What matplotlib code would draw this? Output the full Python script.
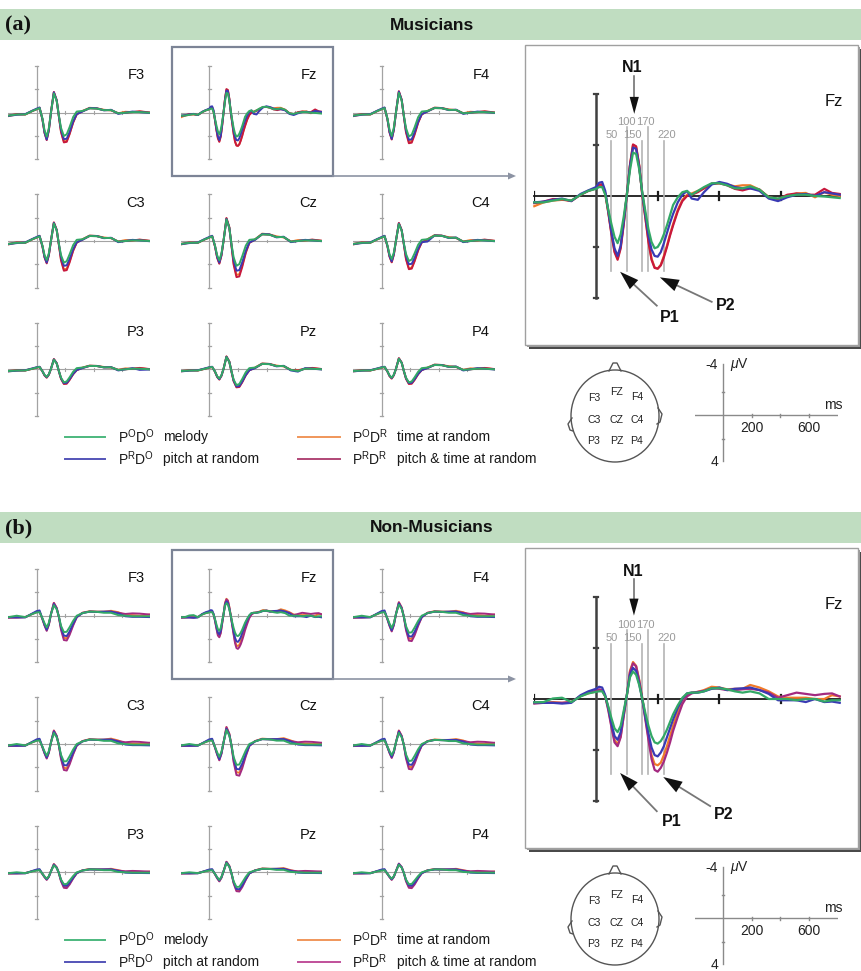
import matplotlib
matplotlib.use("Agg")
import matplotlib.pyplot as plt
from matplotlib.patches import Rectangle, Ellipse, Polygon
from matplotlib.lines import Line2D
from matplotlib.transforms import IdentityTransform
import numpy as np

plt.rcParams['font.family'] = ['Liberation Sans', 'DejaVu Sans']
plt.rcParams['mathtext.fontset'] = 'custom'
plt.rcParams['mathtext.rm'] = 'Liberation Sans'
plt.rcParams['mathtext.it'] = 'Liberation Sans:italic'
plt.rcParams['mathtext.bf'] = 'Liberation Sans:bold'

# ---------------- data (µV, negative up) ----------------
GROUPS = ['Musicians', 'Non-Musicians']
LETTERS = ['(a)', '(b)']
CONDITIONS = ['MEL', 'PIT', 'TIM', 'BOTH']
LEGEND_CODES = [r'P$^{\mathrm{O}}$D$^{\mathrm{O}}$', r'P$^{\mathrm{R}}$D$^{\mathrm{O}}$',
                r'P$^{\mathrm{O}}$D$^{\mathrm{R}}$', r'P$^{\mathrm{R}}$D$^{\mathrm{R}}$']
LEGEND_DESC = ['melody', 'pitch at random', 'time at random', 'pitch & time at random']
ELECTRODES = [['F3', 'Fz', 'F4'], ['C3', 'Cz', 'C4'], ['P3', 'Pz', 'P4']]
HEAD_LABELS = [['F3', 'FZ', 'F4'], ['C3', 'CZ', 'C4'], ['P3', 'PZ', 'P4']]
MARK_T = [50, 100, 150, 170, 220]
MARK_LABELS = ['50', '100', '150', '170', '220']
BIG_XTICKS = [-200, 200, 400, 600]
BIG_YTICKS = [-4, -2, 2, 4]
SCALE_XTICKS = [200, 400, 600]
SCALE_XLABELS = ['200', '', '600']
SCALE_YTICKS = [-2, 2]

T_BIG = [-200, -170, -140, -110, -80, -50, -25, 0, 10, 20, 30, 40, 50, 60, 70, 80, 90, 100, 110, 120,
         130, 140, 150, 160, 170, 180, 190, 200, 210, 220, 230, 240, 250, 265, 280, 295, 310, 330, 350,
         375, 400, 425, 450, 475, 500, 530, 560, 590, 620, 650, 680, 710, 740, 765, 790]

A_FZ_MEL = [0.25, 0.25, 0.18, 0.12, 0.18, -0.05, -0.2, -0.28, -0.35, -0.35, -0.05, 0.55, 1.1, 1.6, 1.85, 1.5, 0.8, -0.05, -1.0, -1.7,
            -1.65, -1.05, -0.15, 0.6, 1.3, 1.8, 2.05, 2.0, 1.8, 1.5, 1.15, 0.75, 0.35, 0.05, -0.15, -0.2, -0.05, -0.2, -0.35,
            -0.5, -0.5, -0.42, -0.3, -0.3, -0.38, -0.25, 0.05, 0.1, 0.0, -0.05, -0.05, 0.0, 0.02, 0.05, 0.08]
A_FZ_PIT = [0.25, 0.22, 0.15, 0.1, 0.2, -0.08, -0.22, -0.35, -0.52, -0.55, -0.2, 0.6, 1.4, 2.05, 2.35, 1.95, 1.0, -0.05, -1.15, -1.9,
            -1.85, -1.15, -0.1, 0.75, 1.55, 2.1, 2.35, 2.38, 2.2, 1.85, 1.45, 1.05, 0.7, 0.25, -0.05, -0.2, 0.1, 0.15, -0.15,
            -0.45, -0.55, -0.48, -0.35, -0.3, -0.3, -0.2, 0.1, 0.2, 0.05, -0.05, -0.08, 0.0, -0.15, -0.1, -0.05]
A_FZ_TIM = [0.4, 0.25, 0.18, 0.15, 0.18, -0.05, -0.2, -0.3, -0.42, -0.45, -0.1, 0.65, 1.45, 2.15, 2.45, 2.0, 1.05, -0.05, -1.2, -2.0,
            -1.92, -1.2, -0.05, 0.85, 1.75, 2.45, 2.8, 2.85, 2.7, 2.35, 1.95, 1.5, 1.1, 0.55, 0.15, -0.05, -0.1, -0.2, -0.3,
            -0.48, -0.5, -0.45, -0.38, -0.42, -0.42, -0.25, 0.05, 0.12, 0.0, -0.1, -0.12, 0.05, -0.15, -0.05, 0.0]
A_FZ_BOTH = [0.28, 0.22, 0.12, 0.13, 0.2, -0.05, -0.2, -0.3, -0.45, -0.45, -0.1, 0.65, 1.5, 2.2, 2.5, 2.05, 1.1, -0.05, -1.2, -2.02,
             -1.95, -1.2, -0.05, 0.85, 1.8, 2.5, 2.82, 2.85, 2.72, 2.4, 2.0, 1.55, 1.15, 0.6, 0.2, 0.0, -0.05, -0.15, -0.3,
             -0.48, -0.5, -0.42, -0.28, -0.22, -0.3, -0.25, 0.05, 0.12, -0.05, -0.1, -0.05, -0.05, -0.28, -0.12, -0.08]

B_FZ_MEL = [0.13, 0.12, -0.02, -0.05, 0.12, -0.1, -0.22, -0.28, -0.3, -0.3, -0.1, 0.3, 0.75, 1.15, 1.3, 1.05, 0.45, -0.15, -0.85, -1.08,
            -0.95, -0.55, 0.0, 0.55, 1.05, 1.45, 1.7, 1.75, 1.65, 1.45, 1.2, 0.9, 0.6, 0.25, -0.05, -0.22, -0.25, -0.25, -0.3,
            -0.42, -0.42, -0.38, -0.3, -0.25, -0.3, -0.22, 0.0, 0.0, 0.0, 0.05, 0.0, 0.0, 0.1, 0.05, 0.05]
B_FZ_PIT = [0.13, 0.15, 0.15, 0.18, 0.15, -0.15, -0.3, -0.4, -0.48, -0.45, -0.15, 0.35, 0.95, 1.45, 1.6, 1.3, 0.55, -0.15, -0.95, -1.22,
            -1.1, -0.6, 0.0, 0.7, 1.35, 1.9, 2.2, 2.25, 2.1, 1.85, 1.5, 1.15, 0.8, 0.35, 0.0, -0.22, -0.25, -0.25, -0.3,
            -0.4, -0.45, -0.35, -0.4, -0.42, -0.45, -0.35, -0.2, 0.05, 0.05, 0.05, 0.12, 0.0, 0.12, 0.1, 0.15]
B_FZ_TIM = [0.15, 0.15, 0.12, 0.15, 0.12, -0.12, -0.22, -0.3, -0.35, -0.35, -0.1, 0.4, 1.05, 1.6, 1.78, 1.45, 0.65, -0.15, -1.1, -1.45,
            -1.3, -0.75, -0.05, 0.75, 1.5, 2.2, 2.55, 2.6, 2.5, 2.2, 1.85, 1.45, 1.05, 0.5, 0.1, -0.15, -0.25, -0.28, -0.35,
            -0.48, -0.45, -0.38, -0.4, -0.4, -0.55, -0.45, -0.3, -0.1, -0.05, -0.05, -0.05, 0.0, 0.0, -0.15, -0.1]
B_FZ_BOTH = [0.18, 0.15, 0.15, 0.15, 0.12, -0.12, -0.25, -0.32, -0.38, -0.35, -0.1, 0.45, 1.1, 1.7, 1.85, 1.5, 0.65, -0.15, -1.05, -1.4,
             -1.28, -0.72, 0.0, 0.8, 1.6, 2.35, 2.78, 2.85, 2.7, 2.45, 2.1, 1.7, 1.25, 0.7, 0.2, -0.1, -0.22, -0.28, -0.32,
             -0.42, -0.4, -0.35, -0.35, -0.38, -0.4, -0.35, -0.25, -0.05, -0.15, -0.25, -0.2, -0.15, -0.2, -0.22, -0.1]

T_SMALL = [-200, -140, -80, -30, 0, 20, 40, 55, 70, 85, 100, 120, 140, 155, 170, 190, 210, 230, 255, 280,
           320, 370, 420, 470, 520, 570, 620, 670, 720, 790]

# ---- Musicians ----
A_F3_MEL = [0.25,0.15,0.15,-0.15,-0.3,-0.4,0.49,1.52,2.05,1.31,-0.05,-1.65,-0.99,0.25,1.3,2.0,1.85,1.24,0.37,-0.1,-0.15,-0.37,-0.35,-0.22,-0.22,0.05,0.0,-0.05,-0.05,0.0]
A_F3_PIT = [0.28,0.18,0.12,-0.18,-0.35,-0.45,0.55,1.7,2.3,1.47,-0.05,-1.75,-1.05,0.28,1.48,2.28,2.23,1.65,0.75,0.12,-0.1,-0.4,-0.38,-0.2,-0.25,0.1,0.0,-0.1,-0.05,0.02]
A_F3_TIM = [0.3,0.15,0.15,-0.15,-0.3,-0.42,0.55,1.7,2.3,1.47,-0.05,-1.75,-1.05,0.31,1.61,2.47,2.42,1.79,0.82,0.13,-0.15,-0.42,-0.38,-0.25,-0.2,0.05,-0.08,-0.05,-0.1,0.0]
A_F3_BOTH = [0.25,0.12,0.15,-0.15,-0.3,-0.42,0.56,1.74,2.35,1.5,-0.05,-1.78,-1.07,0.32,1.66,2.55,2.5,1.84,0.84,0.13,-0.12,-0.38,-0.36,-0.22,-0.22,0.05,0.0,-0.05,-0.12,-0.02]
A_F4_MEL = [0.25,0.15,0.15,-0.15,-0.3,-0.4,0.48,1.48,2.0,1.28,-0.05,-1.7,-1.02,0.25,1.32,2.04,1.89,1.26,0.38,-0.1,-0.15,-0.4,-0.38,-0.24,-0.24,0.05,0.0,-0.05,-0.05,0.0]
A_F4_PIT = [0.28,0.18,0.12,-0.18,-0.35,-0.45,0.54,1.67,2.25,1.44,-0.05,-1.8,-1.08,0.29,1.51,2.33,2.28,1.68,0.77,0.12,-0.1,-0.42,-0.4,-0.22,-0.26,0.1,0.0,-0.1,-0.05,0.02]
A_F4_TIM = [0.3,0.15,0.15,-0.15,-0.3,-0.42,0.54,1.67,2.25,1.44,-0.05,-1.8,-1.08,0.31,1.61,2.47,2.42,1.79,0.82,0.13,-0.15,-0.44,-0.4,-0.28,-0.22,0.05,-0.08,-0.05,-0.1,0.0]
A_F4_BOTH = [0.25,0.12,0.15,-0.15,-0.3,-0.42,0.55,1.7,2.3,1.47,-0.05,-1.85,-1.11,0.32,1.7,2.62,2.57,1.89,0.86,0.14,-0.12,-0.4,-0.39,-0.24,-0.24,0.05,0.0,-0.05,-0.12,-0.02]
A_C3_MEL = [0.25,0.15,0.15,-0.15,-0.3,-0.4,0.39,1.21,1.63,1.04,-0.05,-1.5,-0.9,0.23,1.21,1.86,1.73,1.15,0.35,-0.1,-0.15,-0.43,-0.41,-0.26,-0.26,0.05,0.0,-0.05,-0.05,0.0]
A_C3_PIT = [0.28,0.18,0.12,-0.18,-0.35,-0.45,0.44,1.37,1.85,1.18,-0.05,-1.55,-0.93,0.26,1.39,2.13,2.09,1.54,0.7,0.11,-0.1,-0.45,-0.43,-0.24,-0.28,0.1,0.0,-0.1,-0.05,0.02]
A_C3_TIM = [0.3,0.15,0.15,-0.15,-0.3,-0.42,0.44,1.37,1.85,1.18,-0.05,-1.57,-0.94,0.3,1.58,2.43,2.38,1.75,0.8,0.13,-0.15,-0.47,-0.43,-0.3,-0.24,0.05,-0.08,-0.05,-0.1,0.0]
A_C3_BOTH = [0.25,0.12,0.15,-0.15,-0.3,-0.42,0.46,1.42,1.92,1.23,-0.05,-1.6,-0.96,0.32,1.66,2.55,2.5,1.84,0.84,0.13,-0.12,-0.43,-0.42,-0.26,-0.26,0.05,0.0,-0.05,-0.12,-0.02]
A_CZ_MEL = [0.25,0.15,0.15,-0.15,-0.3,-0.4,0.4,1.22,1.65,1.06,-0.05,-1.85,-1.11,0.26,1.39,2.13,1.98,1.32,0.4,-0.1,-0.15,-0.57,-0.54,-0.34,-0.34,0.05,0.0,-0.05,-0.05,0.0]
A_CZ_PIT = [0.28,0.18,0.12,-0.18,-0.35,-0.45,0.44,1.37,1.85,1.18,-0.05,-1.9,-1.14,0.32,1.66,2.55,2.5,1.84,0.84,0.13,-0.1,-0.6,-0.57,-0.31,-0.37,0.1,0.0,-0.1,-0.05,0.02]
A_CZ_TIM = [0.3,0.15,0.15,-0.15,-0.3,-0.42,0.46,1.41,1.9,1.22,-0.05,-1.95,-1.17,0.36,1.89,2.91,2.85,2.1,0.96,0.15,-0.15,-0.63,-0.57,-0.4,-0.31,0.05,-0.08,-0.05,-0.1,0.0]
A_CZ_BOTH = [0.25,0.12,0.15,-0.15,-0.3,-0.42,0.47,1.44,1.95,1.25,-0.05,-1.97,-1.18,0.38,2.02,3.1,3.04,2.24,1.02,0.16,-0.12,-0.57,-0.55,-0.34,-0.34,0.05,0.0,-0.05,-0.12,-0.02]
A_C4_MEL = [0.25,0.15,0.15,-0.15,-0.3,-0.4,0.37,1.15,1.55,0.99,-0.05,-1.45,-0.87,0.21,1.12,1.72,1.59,1.06,0.32,-0.1,-0.15,-0.46,-0.44,-0.28,-0.28,0.05,0.0,-0.05,-0.05,0.0]
A_C4_PIT = [0.28,0.18,0.12,-0.18,-0.35,-0.45,0.42,1.3,1.75,1.12,-0.05,-1.5,-0.9,0.25,1.3,2.0,1.96,1.44,0.66,0.1,0.05,-0.48,-0.46,-0.25,-0.3,0.1,0.0,-0.1,-0.05,0.02]
A_C4_TIM = [0.3,0.15,0.15,-0.15,-0.3,-0.42,0.43,1.33,1.8,1.15,-0.05,-1.52,-0.91,0.29,1.51,2.33,2.28,1.68,0.77,0.12,-0.15,-0.51,-0.46,-0.32,-0.25,0.05,-0.08,-0.05,-0.1,0.0]
A_C4_BOTH = [0.25,0.12,0.15,-0.15,-0.3,-0.42,0.44,1.35,1.83,1.17,-0.05,-1.55,-0.93,0.3,1.57,2.42,2.37,1.74,0.8,0.12,-0.12,-0.46,-0.45,-0.28,-0.28,0.05,0.0,-0.05,-0.12,-0.02]
A_P3_MEL = [0.15,0.1,0.1,-0.05,-0.15,-0.2,0.16,0.48,0.65,0.42,-0.05,-0.82,-0.49,0.14,0.72,1.12,1.04,0.69,0.21,-0.1,-0.15,-0.29,-0.28,-0.17,-0.17,0.05,0.0,-0.05,-0.05,0.0]
A_P3_PIT = [0.18,0.12,0.08,-0.08,-0.18,-0.22,0.16,0.5,0.68,0.44,-0.05,-0.85,-0.51,0.15,0.77,1.18,1.16,0.85,0.39,0.06,-0.1,-0.3,-0.29,-0.16,-0.19,0.1,0.0,-0.1,0.05,0.02]
A_P3_TIM = [0.18,0.1,0.1,-0.05,-0.15,-0.2,0.17,0.52,0.7,0.45,-0.05,-0.85,-0.51,0.15,0.79,1.21,1.19,0.88,0.4,0.06,-0.15,-0.32,-0.29,-0.2,-0.16,0.05,-0.08,-0.05,-0.1,0.0]
A_P3_BOTH = [0.15,0.08,0.1,-0.05,-0.15,-0.2,0.17,0.53,0.72,0.46,-0.05,-0.88,-0.53,0.16,0.82,1.26,1.24,0.91,0.42,0.07,-0.12,-0.29,-0.28,-0.17,-0.17,0.05,0.0,-0.05,-0.12,-0.02]
A_PZ_MEL = [0.15,0.1,0.1,-0.05,-0.15,-0.2,0.19,0.59,0.8,0.51,-0.05,-1.05,-0.63,0.17,0.88,1.36,1.26,0.84,0.25,-0.1,-0.15,-0.46,-0.44,-0.28,-0.28,0.05,0.15,-0.05,-0.05,0.0]
A_PZ_PIT = [0.18,0.12,0.08,-0.08,-0.18,-0.22,0.2,0.63,0.85,0.54,-0.05,-1.08,-0.65,0.18,0.96,1.47,1.44,1.06,0.49,0.08,-0.1,-0.48,-0.46,-0.25,-0.3,0.1,0.2,-0.1,-0.05,0.02]
A_PZ_TIM = [0.18,0.1,0.1,-0.05,-0.15,-0.2,0.21,0.64,0.86,0.55,-0.05,-1.1,-0.66,0.19,0.98,1.5,1.47,1.09,0.5,0.08,-0.15,-0.51,-0.46,-0.32,-0.25,0.05,0.08,-0.05,-0.1,0.0]
A_PZ_BOTH = [0.15,0.08,0.1,-0.05,-0.15,-0.2,0.21,0.65,0.88,0.56,-0.05,-1.1,-0.66,0.19,1.01,1.55,1.52,1.12,0.51,0.08,-0.12,-0.46,-0.45,-0.28,-0.28,0.05,0.1,-0.05,-0.12,-0.02]
A_P4_MEL = [0.15,0.1,0.1,-0.05,-0.15,-0.2,0.17,0.53,0.72,0.46,-0.05,-0.9,-0.54,0.14,0.72,1.12,1.04,0.69,0.21,-0.1,-0.15,-0.37,-0.35,-0.22,-0.22,0.05,0.0,-0.05,-0.05,0.0]
A_P4_PIT = [0.18,0.12,0.08,-0.08,-0.18,-0.22,0.18,0.56,0.75,0.48,-0.05,-0.92,-0.55,0.15,0.77,1.18,1.16,0.85,0.39,0.06,-0.1,-0.39,-0.37,-0.2,-0.24,0.1,0.0,-0.1,-0.05,0.02]
A_P4_TIM = [0.18,0.1,0.1,-0.05,-0.15,-0.2,0.18,0.57,0.77,0.49,-0.05,-0.94,-0.56,0.15,0.79,1.22,1.2,0.88,0.4,0.06,-0.15,-0.41,-0.37,-0.26,-0.2,0.05,-0.08,-0.05,-0.1,0.0]
A_P4_BOTH = [0.15,0.08,0.1,-0.05,-0.15,-0.2,0.19,0.59,0.8,0.51,-0.05,-0.95,-0.57,0.16,0.82,1.26,1.24,0.91,0.42,0.07,-0.12,-0.37,-0.36,-0.22,-0.22,0.05,0.0,-0.05,-0.12,-0.02]

# ---- Non-musicians ----
B_F3_MEL = [0.13,0.0,0.12,-0.15,-0.28,-0.3,0.22,0.65,1.0,0.6,-0.15,-0.9,-0.54,0.07,0.87,1.41,1.38,0.99,0.44,0.0,-0.22,-0.35,-0.33,-0.25,-0.25,-0.05,0.0,0.05,0.05,0.05]
B_F3_PIT = [0.13,0.15,0.15,-0.2,-0.4,-0.45,0.26,0.78,1.2,0.72,-0.15,-1.0,-0.6,0.09,0.99,1.71,1.75,1.35,0.68,0.11,-0.22,-0.35,-0.33,-0.35,-0.35,-0.2,0.05,0.1,0.1,0.12]
B_F3_TIM = [0.15,0.15,0.12,-0.15,-0.3,-0.35,0.28,0.81,1.25,0.75,-0.15,-1.1,-0.66,0.1,1.1,1.9,1.94,1.5,0.76,0.12,-0.25,-0.39,-0.35,-0.35,-0.42,-0.3,-0.05,-0.05,0.0,-0.1]
B_F3_BOTH = [0.18,0.15,0.12,-0.17,-0.32,-0.35,0.29,0.85,1.3,0.78,-0.15,-1.1,-0.66,0.11,1.21,2.09,2.13,1.65,0.84,0.13,-0.25,-0.35,-0.33,-0.32,-0.35,-0.25,-0.15,-0.2,-0.18,-0.1]
B_F4_MEL = [0.13,0.0,0.12,-0.15,-0.28,-0.3,0.23,0.68,1.05,0.63,-0.15,-0.95,-0.57,0.08,0.9,1.46,1.43,1.02,0.45,0.0,-0.22,-0.35,-0.33,-0.25,-0.25,-0.05,0.0,0.05,0.05,0.05]
B_F4_PIT = [0.13,0.15,0.15,-0.2,-0.4,-0.45,0.28,0.81,1.25,0.75,-0.15,-1.05,-0.63,0.09,1.02,1.76,1.79,1.39,0.7,0.11,-0.22,-0.35,-0.33,-0.35,-0.35,-0.2,0.05,0.1,0.1,0.12]
B_F4_TIM = [0.15,0.15,0.12,-0.15,-0.3,-0.35,0.29,0.85,1.3,0.78,-0.15,-1.15,-0.69,0.1,1.13,1.95,1.99,1.54,0.78,0.12,-0.25,-0.39,-0.35,-0.35,-0.42,-0.3,-0.05,-0.05,0.0,-0.1]
B_F4_BOTH = [0.18,0.15,0.12,-0.17,-0.32,-0.35,0.3,0.88,1.35,0.81,-0.15,-1.15,-0.69,0.11,1.24,2.14,2.18,1.69,0.86,0.14,-0.25,-0.35,-0.33,-0.32,-0.35,-0.25,-0.15,-0.2,-0.18,-0.1]
B_C3_MEL = [0.13,0.0,0.12,-0.15,-0.28,-0.3,0.22,0.65,1.0,0.6,-0.15,-0.95,-0.57,0.08,0.93,1.5,1.47,1.05,0.47,0.0,-0.22,-0.38,-0.36,-0.27,-0.27,-0.05,0.0,0.05,0.05,0.05]
B_C3_PIT = [0.13,0.15,0.15,-0.2,-0.4,-0.45,0.25,0.75,1.15,0.69,-0.15,-1.05,-0.63,0.1,1.05,1.81,1.84,1.43,0.72,0.11,-0.22,-0.38,-0.36,-0.38,-0.38,-0.2,0.05,0.1,0.1,0.12]
B_C3_TIM = [0.15,0.15,0.12,-0.15,-0.3,-0.35,0.26,0.78,1.2,0.72,-0.15,-1.15,-0.69,0.11,1.18,2.04,2.09,1.61,0.82,0.13,-0.25,-0.42,-0.38,-0.38,-0.46,-0.3,-0.05,-0.05,0.0,-0.1]
B_C3_BOTH = [0.18,0.15,0.12,-0.17,-0.32,-0.35,0.28,0.81,1.25,0.75,-0.15,-1.15,-0.69,0.12,1.29,2.23,2.28,1.76,0.89,0.14,-0.25,-0.38,-0.36,-0.34,-0.38,-0.25,-0.15,-0.2,-0.18,-0.1]
B_CZ_MEL = [0.13,0.0,0.12,-0.15,-0.28,-0.3,0.24,0.72,1.1,0.66,-0.15,-1.2,-0.72,0.09,1.11,1.79,1.76,1.26,0.56,0.0,-0.22,-0.42,-0.4,-0.29,-0.29,-0.05,0.0,0.05,0.05,0.05]
B_CZ_PIT = [0.13,0.15,0.15,-0.2,-0.4,-0.45,0.29,0.85,1.3,0.78,-0.15,-1.3,-0.78,0.11,1.24,2.14,2.18,1.69,0.86,0.14,-0.22,-0.42,-0.4,-0.42,-0.42,-0.2,0.05,0.1,0.1,0.12]
B_CZ_TIM = [0.15,0.15,0.12,-0.15,-0.3,-0.35,0.3,0.88,1.35,0.81,-0.15,-1.45,-0.87,0.13,1.4,2.42,2.47,1.91,0.97,0.15,-0.25,-0.46,-0.42,-0.42,-0.5,-0.3,-0.05,-0.05,0.0,-0.1]
B_CZ_BOTH = [0.18,0.15,0.12,-0.17,-0.32,-0.35,0.31,0.91,1.4,0.84,-0.15,-1.45,-0.87,0.14,1.54,2.66,2.72,2.1,1.06,0.17,-0.25,-0.42,-0.4,-0.38,-0.42,-0.25,-0.15,-0.2,-0.18,-0.1]
B_C4_MEL = [0.13,0.0,0.12,-0.15,-0.28,-0.3,0.21,0.62,0.95,0.57,-0.15,-0.95,-0.57,0.08,0.9,1.46,1.43,1.02,0.45,0.0,-0.22,-0.35,-0.33,-0.25,-0.25,-0.05,0.0,0.05,0.05,0.05]
B_C4_PIT = [0.13,0.15,0.15,-0.2,-0.4,-0.45,0.24,0.72,1.1,0.66,-0.15,-1.05,-0.63,0.09,1.02,1.76,1.79,1.39,0.7,0.11,-0.22,-0.35,-0.33,-0.35,-0.35,-0.2,0.05,0.1,0.1,0.12]
B_C4_TIM = [0.15,0.15,0.12,-0.15,-0.3,-0.35,0.25,0.75,1.15,0.69,-0.15,-1.15,-0.69,0.1,1.13,1.95,1.99,1.54,0.78,0.12,-0.25,-0.39,-0.35,-0.35,-0.42,-0.3,-0.05,-0.05,0.0,-0.1]
B_C4_BOTH = [0.18,0.15,0.12,-0.17,-0.32,-0.35,0.26,0.78,1.2,0.72,-0.15,-1.15,-0.69,0.11,1.24,2.14,2.18,1.69,0.86,0.14,-0.25,-0.35,-0.33,-0.32,-0.35,-0.25,-0.15,-0.2,-0.18,-0.1]
B_P3_MEL = [0.08,0.0,0.07,-0.08,-0.15,-0.18,0.12,0.36,0.55,0.33,-0.1,-0.6,-0.36,0.05,0.63,1.02,1.0,0.71,0.32,0.0,-0.15,-0.25,-0.24,-0.18,-0.18,-0.03,0.0,0.03,0.03,0.03]
B_P3_PIT = [0.08,0.09,0.09,-0.12,-0.24,-0.27,0.13,0.39,0.6,0.36,-0.1,-0.65,-0.39,0.06,0.66,1.14,1.16,0.9,0.46,0.07,-0.15,-0.25,-0.24,-0.25,-0.25,-0.12,0.03,0.06,0.06,0.07]
B_P3_TIM = [0.09,0.09,0.07,-0.09,-0.18,-0.21,0.14,0.4,0.62,0.37,-0.1,-0.7,-0.42,0.07,0.72,1.24,1.26,0.98,0.49,0.08,-0.17,-0.28,-0.25,-0.25,-0.3,-0.18,-0.03,-0.03,0.0,-0.06]
B_P3_BOTH = [0.11,0.09,0.07,-0.1,-0.19,-0.21,0.14,0.42,0.65,0.39,-0.1,-0.7,-0.42,0.07,0.77,1.33,1.36,1.05,0.53,0.08,-0.17,-0.25,-0.24,-0.23,-0.25,-0.15,-0.09,-0.12,-0.1,-0.06]
B_PZ_MEL = [0.08,0.0,0.07,-0.08,-0.15,-0.18,0.14,0.42,0.65,0.39,-0.1,-0.8,-0.48,0.07,0.78,1.26,1.24,0.88,0.39,0.0,-0.15,-0.3,-0.29,-0.21,-0.21,-0.03,0.0,0.03,0.03,0.03]
B_PZ_PIT = [0.08,0.09,0.09,-0.12,-0.24,-0.27,0.15,0.46,0.7,0.42,-0.1,-0.85,-0.51,0.08,0.83,1.43,1.46,1.13,0.57,0.09,-0.15,-0.3,-0.29,-0.3,-0.3,-0.12,0.03,0.06,0.06,0.07]
B_PZ_TIM = [0.09,0.09,0.07,-0.09,-0.18,-0.21,0.17,0.49,0.75,0.45,-0.1,-0.9,-0.54,0.08,0.88,1.52,1.55,1.2,0.61,0.1,-0.17,-0.33,-0.3,-0.3,-0.36,-0.18,-0.03,-0.03,0.0,-0.06]
B_PZ_BOTH = [0.11,0.09,0.07,-0.1,-0.19,-0.21,0.17,0.51,0.78,0.47,-0.1,-0.9,-0.54,0.09,0.94,1.62,1.65,1.28,0.65,0.1,-0.17,-0.3,-0.29,-0.27,-0.3,-0.15,-0.09,-0.12,-0.1,-0.06]
B_P4_MEL = [0.08,0.0,0.07,-0.08,-0.15,-0.18,0.12,0.36,0.55,0.33,-0.1,-0.65,-0.39,0.05,0.63,1.02,1.0,0.71,0.32,0.0,-0.15,-0.25,-0.24,-0.18,-0.18,-0.03,0.0,0.03,0.03,0.03]
B_P4_PIT = [0.08,0.09,0.09,-0.12,-0.24,-0.27,0.13,0.39,0.6,0.36,-0.1,-0.7,-0.42,0.06,0.66,1.14,1.16,0.9,0.46,0.07,-0.15,-0.25,-0.24,-0.25,-0.25,-0.12,0.03,0.06,0.06,0.07]
B_P4_TIM = [0.09,0.09,0.07,-0.09,-0.18,-0.21,0.14,0.4,0.62,0.37,-0.1,-0.72,-0.43,0.07,0.72,1.24,1.26,0.98,0.49,0.08,-0.17,-0.28,-0.25,-0.25,-0.3,-0.18,-0.03,-0.03,0.0,-0.06]
B_P4_BOTH = [0.11,0.09,0.07,-0.1,-0.19,-0.21,0.14,0.42,0.65,0.39,-0.1,-0.75,-0.45,0.07,0.77,1.33,1.36,1.05,0.53,0.08,-0.17,-0.25,-0.24,-0.23,-0.25,-0.15,-0.09,-0.12,-0.1,-0.06]

# annotation anchor points (ms, µV) in the enlarged Fz plot
A_ANN = {'N1': ((116, -5.02), (124, -4.7), (124, -3.22)),
         'P1': ((240, 4.75), (197, 4.3), (78, 2.97)),
         'P2': ((420, 4.3), (375, 4.15), (207, 3.19))}
B_ANN = {'N1': ((121, -5.0), (123, -4.7), (123, -3.27)),
         'P1': ((245, 4.8), (197, 4.4), (78, 2.9)),
         'P2': ((413, 4.54), (370, 4.2), (218, 3.06))}

# ---------------- styling ----------------
COLS_A = {'MEL': '#33a866', 'PIT': '#3a3ab4', 'TIM': '#f07a2a', 'BOTH': '#c8183c'}
COLS_B = {'MEL': '#33a866', 'PIT': '#3a3ab4', 'TIM': '#f07a2a', 'BOTH': '#a42a80'}
LEG_A = {'MEL': '#4cb87e', 'PIT': '#5454b8', 'TIM': '#f0965a', 'BOTH': '#b04676'}
LEG_B = {'MEL': '#4cb87e', 'PIT': '#5454b8', 'TIM': '#f0965a', 'BOTH': '#c0509a'}
HEADER_COL = '#c0ddc1'
NARROW = ['Liberation Sans Narrow', 'Liberation Sans', 'DejaVu Sans']

W, H = 862, 971
DY = 503
SX, SY = 0.143, 11.65      # small plots px per ms / px per µV
BX, BY = 0.3085, 25.5      # enlarged plot
COL_X = [36.7, 209.3, 381.7]
ROW_Y = [112.7, 241.0, 369.3]

fig = plt.figure(figsize=(W / 100, H / 100), dpi=100)
bg = fig.add_axes([0, 0, 1, 1], zorder=0)
bg.set_xlim(0, W)
bg.set_ylim(H, 0)
bg.axis('off')


def px_axes(x0, y0, x1, y1, z=2):
    a = fig.add_axes([x0 / W, 1 - y1 / H, (x1 - x0) / W, (y1 - y0) / H], zorder=z)
    a.axis('off')
    return a


def head_arrow(ax, tail, tip, hl, hw, shaft_col='#777777', lw=1.2):
    p0 = ax.transData.transform(tail)
    p1 = ax.transData.transform(tip)
    d = p1 - p0
    u = d / np.hypot(*d)
    base = p1 - u * hl
    n = np.array([-u[1], u[0]])
    fig.add_artist(Line2D([p0[0], base[0] + u[0] * 2], [p0[1], base[1] + u[1] * 2], color=shaft_col,
                          lw=lw, transform=IdentityTransform(), zorder=6))
    fig.add_artist(Polygon([p1, base + n * hw, base - n * hw], closed=True, facecolor='#111111',
                           edgecolor='none', transform=IdentityTransform(), zorder=7))


def small_plot(cx, zy, name, times, series, cols):
    ax = px_axes(cx - SX * 200, zy - SY * 4.4, cx + SX * 790, zy + SY * 4.4)
    ax.set_xlim(-200, 790)
    ax.set_ylim(4.4, -4.4)
    g = '#a3a3a3'
    ax.plot([-200, 790], [0, 0], color=g, lw=0.8)
    for t in (200, 400, 600):
        ax.plot([t, t], [-0.12, 0.12], color=g, lw=0.8)
    ax.plot([0, 0], [-4, 4], color=g, lw=0.9)
    for v in BIG_YTICKS:
        ax.plot([-9, 9], [v, v], color=g, lw=0.9)
    for c in ['TIM', 'BOTH', 'PIT', 'MEL']:
        ax.plot(times, series[c], color=cols[c], lw=1.4, solid_joinstyle='round')
    ax.text(755, -3.24, name, ha='right', va='center', fontsize=10.5, color='#111111')


def big_plot(cx, zy, times, series, cols, ann):
    ax = px_axes(cx - BX * 200, zy - BY * 4.6, cx + BX * 790, zy + BY * 4.6, z=3)
    ax.set_xlim(-200, 790)
    ax.set_ylim(4.6, -4.6)
    ax.plot([-200, 790], [0, 0], color='#1a1a1a', lw=1.3, clip_on=False)
    for t in BIG_XTICKS:
        ax.plot([t, t], [-0.14, 0.14], color='#1a1a1a', lw=1.6)
    ax.plot([0, 0], [-4, 4], color='#404040', lw=1.8)
    for v in BIG_YTICKS:
        ax.plot([-8, 8], [v, v], color='#404040', lw=1.6)
    tops = [-2.15, -2.7, -2.15, -2.7, -2.15]
    for t, top in zip(MARK_T, tops):
        ax.plot([t, t], [top, 2.95], color='#b4b4b4', lw=1.2)
    lab_pos = [(50, -2.38, 'center'), (129, -2.92, 'right'), (149, -2.38, 'right'),
               (131, -2.92, 'left'), (228, -2.38, 'center')]
    for lab, (t, v, ha) in zip(MARK_LABELS, lab_pos):
        ax.text(t, v, lab, ha=ha, va='center', fontsize=8.0, color='#9a9a9a', family=NARROW)
    for c in ['TIM', 'BOTH', 'PIT', 'MEL']:
        ax.plot(times, series[c], color=cols[c], lw=1.6, solid_joinstyle='round', clip_on=False)
    ax.text(800, -3.7, 'Fz', ha='right', va='center', fontsize=12, color='#111111', clip_on=False)
    for key, (tp, tail, tip) in ann.items():
        ax.text(tp[0], tp[1], key, ha='center', va='center', fontsize=11.5, fontweight='bold',
                color='#111111', clip_on=False)
        if key == 'N1':
            head_arrow(ax, tail, tip, 17, 4.6, shaft_col='#666666', lw=1.1)
        else:
            head_arrow(ax, tail, tip, 19, 6.2, shaft_col='#777777', lw=1.3)
    return ax


def panel(idx, dy, small, fz, cols, legcols, ann):
    # header bar
    bg.add_patch(Rectangle((0, 9 + dy), W, 31, facecolor=HEADER_COL, edgecolor='none', zorder=1))
    bg.text(5, 25 + dy, LETTERS[idx], ha='left', va='center', fontsize=16, fontweight='bold',
            family=['Liberation Serif', 'DejaVu Serif'], color='#111111', zorder=2)
    bg.text(432, 25 + dy, GROUPS[idx], ha='center', va='center', fontsize=12.5, fontweight='bold',
            family=NARROW, color='#111111', zorder=2)
    # Fz highlight box and connecting arrow
    bg.add_patch(Rectangle((172, 47 + dy), 161, 129, facecolor='none', edgecolor='#7c8496', lw=1.6, zorder=2))
    bg.plot([333, 509], [176 + dy, 176 + dy], color='#8c93a3', lw=1.2, zorder=2)
    bg.add_patch(Polygon([(508, 172.5 + dy), (516, 176 + dy), (508, 179.5 + dy)], closed=True,
                         facecolor='#8c93a3', edgecolor='none', zorder=2))
    # enlarged plot frame with shadow
    bg.add_patch(Rectangle((529, 49 + dy), 333, 300, facecolor='#4a4a4a', edgecolor='none', zorder=1))
    bg.add_patch(Rectangle((527, 47 + dy), 333, 300, facecolor='#9a9a9a', edgecolor='none', zorder=1.1))
    bg.add_patch(Rectangle((525, 45 + dy), 333, 300, facecolor='white', edgecolor='#a0a0a0', lw=1.0, zorder=1.2))
    # small plots
    for r, row in enumerate(ELECTRODES):
        for c, name in enumerate(row):
            if name == 'Fz':
                small_plot(COL_X[c], ROW_Y[r] + dy, name, T_BIG, fz, cols)
            else:
                small_plot(COL_X[c], ROW_Y[r] + dy, name, T_SMALL, small[name], cols)
    big_plot(596, 196 + dy, T_BIG, fz, cols, ann)
    # legend
    legpos = [(65, 105, 118, 163, 437), (65, 105, 118, 163, 459),
              (298, 340, 352, 397, 437), (298, 340, 352, 397, 459)]
    for cond, code, desc, (x0, x1, xc, xd, y) in zip(CONDITIONS, LEGEND_CODES, LEGEND_DESC, legpos):
        bg.plot([x0, x1], [y + dy, y + dy], color=legcols[cond], lw=1.4, zorder=2)
        bg.text(xc, y + dy, code, ha='left', va='center', fontsize=10, color='#1a1a1a', zorder=2)
        bg.text(xd, y + dy, desc, ha='left', va='center', fontsize=10, color='#1a1a1a', zorder=2)
    # head diagram
    hx, hy = 615, 416 + dy
    bg.add_patch(Ellipse((hx, hy), 88, 92, facecolor='white', edgecolor='#555555', lw=1.0, zorder=2))
    bg.plot([hx - 6, hx - 2, hx + 2, hx + 6], [hy - 45, hy - 53, hy - 53, hy - 45], color='#555555', lw=1.0, zorder=2)
    bg.plot([hx + 43, hx + 47, hx + 45, hx + 42], [hy - 8, hy - 2, hy + 6, hy + 8], color='#555555', lw=1.0, zorder=2)
    bg.plot([hx - 43, hx - 47, hx - 45, hx - 42], [hy + 2, hy + 8, hy + 14, hy + 15], color='#555555', lw=1.0, zorder=2)
    offs_x = [-21, 2, 22]
    offs_y = [[-18, -24, -19], [4, 4, 4], [25, 25, 25]]
    for r in range(3):
        for c in range(3):
            bg.text(hx + offs_x[c], hy + offs_y[r][c], HEAD_LABELS[r][c], ha='center', va='center',
                    fontsize=7.6, color='#222222', zorder=3)
    # scale bar (same scale as the small plots)
    sx0, sy0 = 723.3, 415.3 + dy
    sb = px_axes(sx0 - SX * 200, sy0 - SY * 4.6, sx0 + SX * 800, sy0 + SY * 4.6)
    sb.set_xlim(-200, 800)
    sb.set_ylim(4.6, -4.6)
    sc = '#8a8a8a'
    sb.plot([-200, 796], [0, 0], color=sc, lw=1.0)
    sb.plot([0, 0], [-4.4, 3.9], color=sc, lw=1.0)
    for t in SCALE_XTICKS:
        sb.plot([t, t], [-0.15, 0.15], color=sc, lw=1.0)
    for v in SCALE_YTICKS:
        sb.plot([-8, 8], [v, v], color=sc, lw=1.0)
    for t, lab in zip(SCALE_XTICKS, SCALE_XLABELS):
        if lab:
            sb.text(t, 1.05, lab, ha='center', va='center', fontsize=10, color='#222222')
    sb.text(-80, -4.3, '-4', ha='center', va='center', fontsize=10, color='#222222')
    sb.text(50, -4.4, r'$\mu$V', ha='left', va='center', fontsize=10, color='#222222')
    sb.text(770, -0.9, 'ms', ha='center', va='center', fontsize=10, color='#222222')
    sb.text(-60, 4.0, '4', ha='center', va='center', fontsize=10, color='#222222')


SMALL_A = {'F3': dict(MEL=A_F3_MEL, PIT=A_F3_PIT, TIM=A_F3_TIM, BOTH=A_F3_BOTH),
           'F4': dict(MEL=A_F4_MEL, PIT=A_F4_PIT, TIM=A_F4_TIM, BOTH=A_F4_BOTH),
           'C3': dict(MEL=A_C3_MEL, PIT=A_C3_PIT, TIM=A_C3_TIM, BOTH=A_C3_BOTH),
           'Cz': dict(MEL=A_CZ_MEL, PIT=A_CZ_PIT, TIM=A_CZ_TIM, BOTH=A_CZ_BOTH),
           'C4': dict(MEL=A_C4_MEL, PIT=A_C4_PIT, TIM=A_C4_TIM, BOTH=A_C4_BOTH),
           'P3': dict(MEL=A_P3_MEL, PIT=A_P3_PIT, TIM=A_P3_TIM, BOTH=A_P3_BOTH),
           'Pz': dict(MEL=A_PZ_MEL, PIT=A_PZ_PIT, TIM=A_PZ_TIM, BOTH=A_PZ_BOTH),
           'P4': dict(MEL=A_P4_MEL, PIT=A_P4_PIT, TIM=A_P4_TIM, BOTH=A_P4_BOTH)}
SMALL_B = {'F3': dict(MEL=B_F3_MEL, PIT=B_F3_PIT, TIM=B_F3_TIM, BOTH=B_F3_BOTH),
           'F4': dict(MEL=B_F4_MEL, PIT=B_F4_PIT, TIM=B_F4_TIM, BOTH=B_F4_BOTH),
           'C3': dict(MEL=B_C3_MEL, PIT=B_C3_PIT, TIM=B_C3_TIM, BOTH=B_C3_BOTH),
           'Cz': dict(MEL=B_CZ_MEL, PIT=B_CZ_PIT, TIM=B_CZ_TIM, BOTH=B_CZ_BOTH),
           'C4': dict(MEL=B_C4_MEL, PIT=B_C4_PIT, TIM=B_C4_TIM, BOTH=B_C4_BOTH),
           'P3': dict(MEL=B_P3_MEL, PIT=B_P3_PIT, TIM=B_P3_TIM, BOTH=B_P3_BOTH),
           'Pz': dict(MEL=B_PZ_MEL, PIT=B_PZ_PIT, TIM=B_PZ_TIM, BOTH=B_PZ_BOTH),
           'P4': dict(MEL=B_P4_MEL, PIT=B_P4_PIT, TIM=B_P4_TIM, BOTH=B_P4_BOTH)}
FZ_A = dict(MEL=A_FZ_MEL, PIT=A_FZ_PIT, TIM=A_FZ_TIM, BOTH=A_FZ_BOTH)
FZ_B = dict(MEL=B_FZ_MEL, PIT=B_FZ_PIT, TIM=B_FZ_TIM, BOTH=B_FZ_BOTH)

panel(0, 0, SMALL_A, FZ_A, COLS_A, LEG_A, A_ANN)
panel(1, DY, SMALL_B, FZ_B, COLS_B, LEG_B, B_ANN)

fig.savefig('out.png', dpi=100, facecolor='white')
